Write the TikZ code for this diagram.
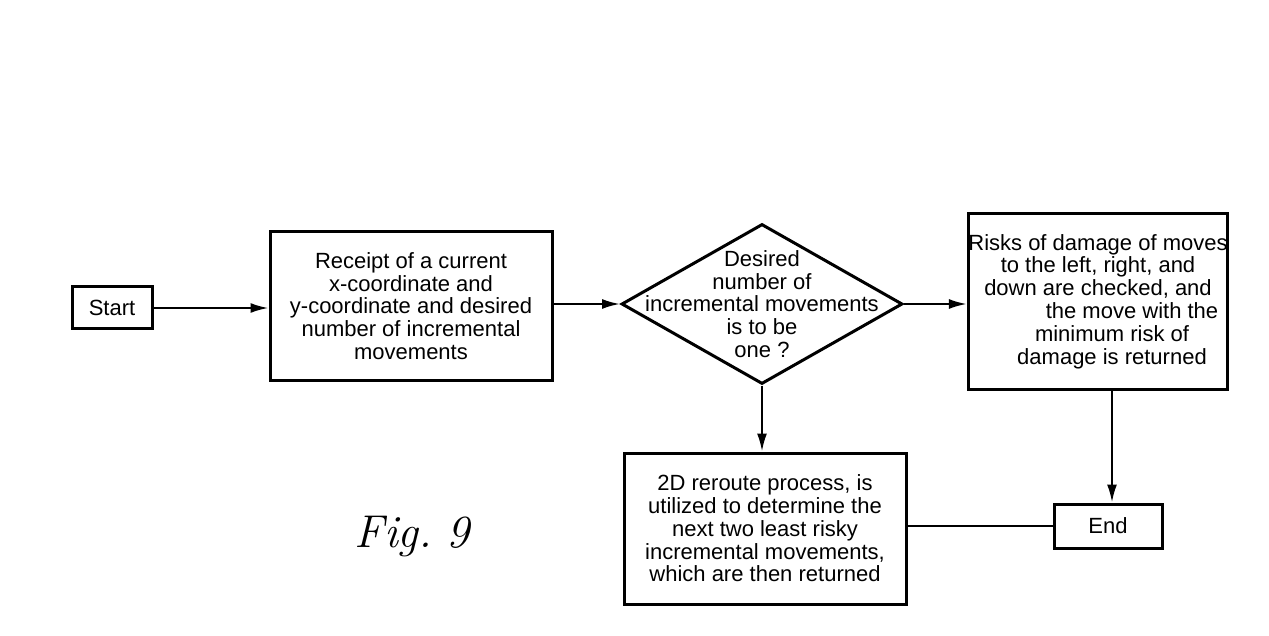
\documentclass[tikz,border=0pt]{standalone}
\usepackage{fontspec}
\setmainfont{Liberation Sans}
\newfontfamily\figfont{Latin Modern Roman}
\usetikzlibrary{calc}
\usetikzlibrary{shapes.geometric,arrows.meta}

\begin{document}
\begin{tikzpicture}[x=0.5pt,y=-0.5pt,
        box/.style={draw,line width=1.5pt,align=center,inner sep=0pt,
            font=\fontsize{11}{11.4}\selectfont},
        decision/.style={draw,diamond,line width=1.5pt,inner sep=0pt},
        flow/.style={line width=1.1pt,-{Latex[length=9pt,width=5pt]}}]
        \useasboundingbox (0,0) rectangle (1269,636);
        % 各个方框
        \node [box,minimum width=40pt,minimum height=21pt] (start) at (112,308) {Start};
        \node [box,minimum width=141pt,minimum height=74pt] (receipt) at (411,306)
            {Receipt of a current\\x-coordinate and\\y-coordinate and desired\\number of incremental\\movements};
        \node [decision,minimum width=140.5pt,minimum height=80pt] (dia) at (762,304) {};
        \node [align=center,inner sep=0pt,font=\fontsize{11}{11.4}\selectfont] (diatext) at (dia)
            {Desired\\number of\\incremental movements\\is to be\\one ?};
        \node [box,minimum width=126pt,minimum height=87.5pt] (risks) at (1098,301.5)
            {Risks of damage of moves\\to the left, right, and\\down are checked, and\\
             \hspace*{34pt}the move with the\\\hspace*{14pt}minimum risk of\\\hspace*{14pt}damage is returned};
        \node [box,minimum width=141pt,minimum height=75.5pt] (reroute) at (765,528.5)
            {2D reroute process, is\\utilized to determine the\\next two least risky\\incremental movements,\\which are then returned};
        \node [box,minimum width=54pt,minimum height=22pt] (end) at (1108,526) {End};
        % 图号
        \node [font=\figfont\itshape\fontsize{23}{27}\selectfont] (fig) at (412,537) {Fig.\hspace{7pt}9};
        % 连线
        \coordinate (endtop) at ($(end.north)+(4,0)$);
        \draw [flow] (start.east) -- (start.east -| receipt.west);
        \draw [flow] (receipt.east |- dia.west) -- (dia.west);
        \draw [flow] (dia.east) -- (dia.east -| risks.west);
        \draw [flow] (dia.south) -- (dia.south |- reroute.north);
        \draw [flow] (endtop |- risks.south) -- (endtop);
        \draw [line width=1.1pt] (end.west -| reroute.east) -- (end.west);
\end{tikzpicture}
\end{document}
